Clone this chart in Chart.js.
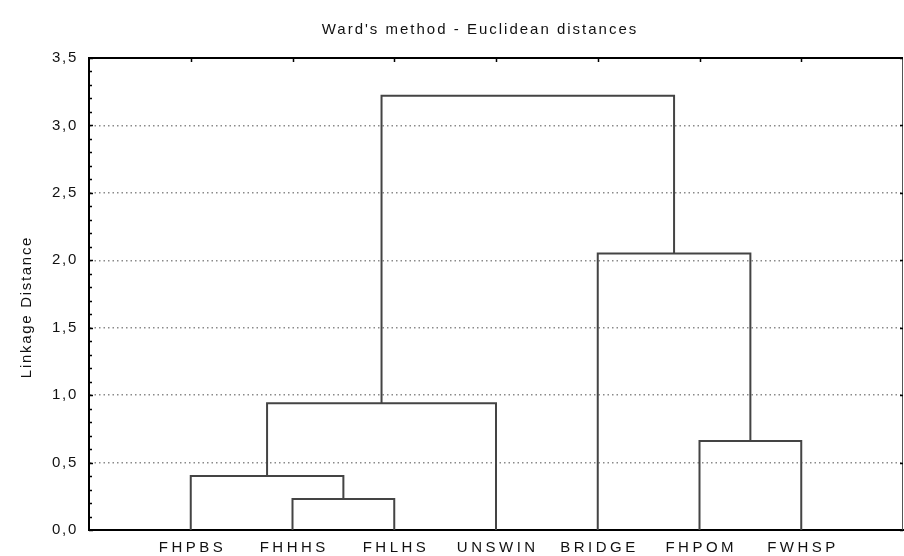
<!DOCTYPE html>
<html>
<head>
<meta charset="utf-8">
<script src="https://cdn.jsdelivr.net/npm/chart.js@4.4.0/dist/chart.umd.min.js"></script>
<style>
  html, body { margin: 0; padding: 0; background: #fff; }
  #chart { display: block; }
</style>
</head>
<body>
<canvas id="chart" width="904" height="556"></canvas>
<script>
const chartTitle = "Ward's method - Euclidean distances";
const yTitle = "Linkage Distance";
const leafLabels = ["FHPBS", "FHHHS", "FHLHS", "UNSWIN", "BRIDGE", "FHPOM", "FWHSP"];
// leaves are nodes 0..6, merge k becomes node 7 + k
const mergeLeft = [1, 0, 8, 5, 4, 9];
const mergeRight = [2, 7, 3, 6, 10, 11];
const mergeHeight = [0.23, 0.40, 0.94, 0.66, 2.05, 3.22];
const yTicks = [0, 0.5, 1, 1.5, 2, 2.5, 3, 3.5];

const FONT = "'Liberation Sans', Arial, sans-serif";

// build the U-shaped links of the dendrogram
const nodeX = leafLabels.map((_, i) => i + 1);
const nodeH = leafLabels.map(() => 0);
const datasets = mergeLeft.map((l, k) => {
  const r = mergeRight[k];
  const h = mergeHeight[k];
  const pts = [
    { x: nodeX[l], y: nodeH[l] },
    { x: nodeX[l], y: h },
    { x: nodeX[r], y: h },
    { x: nodeX[r], y: nodeH[r] }
  ];
  nodeX.push((nodeX[l] + nodeX[r]) / 2);
  nodeH.push(h);
  return {
    data: pts,
    showLine: true,
    borderColor: "#444",
    borderWidth: 2,
    pointRadius: 0,
    fill: false,
    tension: 0
  };
});

const decor = {
  id: "decor",
  beforeDraw(chart) {
    chart.ctx.letterSpacing = "1.7px";
  },
  afterDraw(chart) {
    const { ctx, chartArea: a, scales: { x, y } } = chart;
    ctx.save();

    // frame top / right
    ctx.strokeStyle = "#000";
    ctx.lineWidth = 2;
    ctx.beginPath();
    ctx.moveTo(a.left, a.top);
    ctx.lineTo(a.right, a.top);
    ctx.stroke();
    ctx.strokeStyle = "#555";
    ctx.lineWidth = 1;
    ctx.beginPath();
    ctx.moveTo(a.right - 0.5, a.top);
    ctx.lineTo(a.right - 0.5, a.bottom);
    ctx.stroke();

    // small tick marks
    ctx.strokeStyle = "#000";
    ctx.lineWidth = 1.5;
    ctx.beginPath();
    for (let i = 0; i <= 35; i++) {
      const py = Math.round(y.getPixelForValue(i / 10)) + 0.5;
      ctx.moveTo(a.left, py);
      ctx.lineTo(a.left + (i % 5 ? 3 : 4), py);
    }
    yTicks.forEach(v => {
      const py = Math.round(y.getPixelForValue(v)) + 0.5;
      ctx.moveTo(a.right, py);
      ctx.lineTo(a.right - 3, py);
    });
    leafLabels.forEach((_, i) => {
      const px = Math.round(x.getPixelForValue(i + 1)) + 0.5;
      ctx.moveTo(px, a.top);
      ctx.lineTo(px, a.top + 4);
    });
    ctx.stroke();

    // title
    ctx.fillStyle = "#111";
    ctx.font = "15px " + FONT;
    ctx.textAlign = "center";
    ctx.textBaseline = "middle";
    ctx.letterSpacing = "2px";
    ctx.fillText(chartTitle, (a.left + a.right) / 2 - 16, 30);

    // y axis title
    ctx.save();
    ctx.letterSpacing = "1.7px";
    ctx.translate(27, (a.top + a.bottom) / 2 + 13);
    ctx.rotate(-Math.PI / 2);
    ctx.fillText(yTitle, 0, 0);
    ctx.restore();

    // leaf labels
    ctx.letterSpacing = "3.5px";
    leafLabels.forEach((lab, i) => {
      ctx.fillText(lab, x.getPixelForValue(i + 1) + 1.75, a.bottom + 18);
    });

    ctx.restore();
    ctx.letterSpacing = "0px";
  }
};

new Chart(document.getElementById("chart"), {
  type: "scatter",
  data: { datasets },
  options: {
    responsive: false,
    animation: false,
    layout: { padding: { top: 58, right: 1, left: 0, bottom: 0 } },
    plugins: {
      legend: { display: false },
      tooltip: { enabled: false },
      title: { display: false }
    },
    scales: {
      x: {
        type: "linear",
        min: 0,
        max: 8,
        grid: { display: false },
        border: { display: true, color: "#000", width: 2 },
        ticks: { display: false },
        afterFit: s => { s.height = 26; }
      },
      y: {
        min: 0,
        max: 3.5,
        afterBuildTicks: s => { s.ticks = yTicks.map(v => ({ value: v })); },
        grid: {
          color: c => (c.tick && (c.tick.value === 0 || c.tick.value === 3.5)) ? "rgba(0,0,0,0)" : "#8a8a8a",
          lineWidth: 1.5,
          drawTicks: false
        },
        border: { display: true, color: "#000", width: 2, dash: [1.5, 3] },
        ticks: {
          padding: 11,
          color: "#111",
          font: { family: FONT, size: 15 },
          callback: v => Number(v).toFixed(1).replace(".", ",")
        },
        afterFit: s => { s.width = 89; }
      }
    }
  },
  plugins: [decor]
});
</script>
</body>
</html>
